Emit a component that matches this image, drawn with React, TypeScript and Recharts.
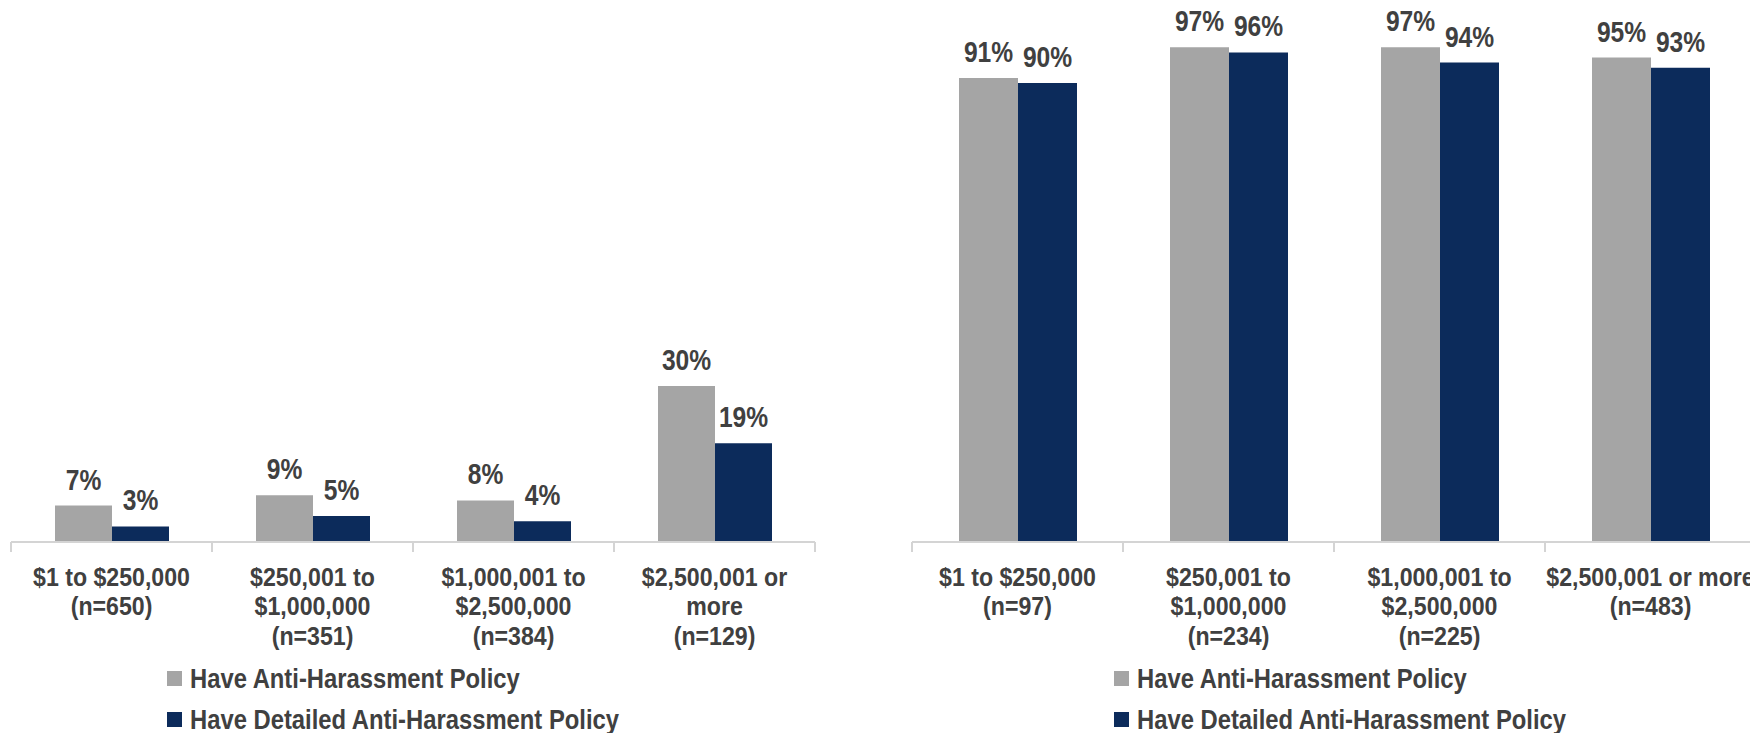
import { BarChart, Bar, XAxis, YAxis, LabelList, Legend } from "recharts";

const leftCategories = [
  ["$1 to $250,000", "(n=650)"],
  ["$250,001 to", "$1,000,000", "(n=351)"],
  ["$1,000,001 to", "$2,500,000", "(n=384)"],
  ["$2,500,001 or", "more", "(n=129)"],
];
const leftPolicy = [7, 9, 8, 30];
const leftDetailed = [3, 5, 4, 19];

const rightCategories = [
  ["$1 to $250,000", "(n=97)"],
  ["$250,001 to", "$1,000,000", "(n=234)"],
  ["$1,000,001 to", "$2,500,000", "(n=225)"],
  ["$2,500,001 or more", "(n=483)"],
];
const rightPolicy = [91, 97, 97, 95];
const rightDetailed = [90, 96, 94, 93];

const seriesNames = ["Have Anti-Harassment Policy", "Have Detailed Anti-Harassment Policy"];
const GREY = "#a5a5a5";
const NAVY = "#0c2b5b";
const TEXT = "#404040";
const AXIS = "#d4d4d4";
// no Arial Narrow offline: Liberation Sans Bold squeezed horizontally
const FONT = "'Liberation Sans', Arial, sans-serif";

function build(cats: string[][], a: number[], b: number[]) {
  return cats.map((lines, i) => ({ name: lines.join("|"), policy: a[i], detailed: b[i] }));
}

function CategoryTick(props: any) {
  const { x, y, payload, index, band, count } = props;
  const lines: string[] = String(payload.value).split("|");
  return (
    <g>
      <line x1={x - band / 2} x2={x - band / 2} y1={y} y2={y + 10} stroke={AXIS} strokeWidth={2} />
      {index === count - 1 && (
        <line x1={x + band / 2} x2={x + band / 2} y1={y} y2={y + 10} stroke={AXIS} strokeWidth={2} />
      )}
      {lines.map((t, i) => (
        <text
          key={i}
          transform={`translate(${x} ${y + 35 + i * 29.5}) scale(0.89 1)`}
          textAnchor="middle"
          dominantBaseline="central"
          fill={TEXT}
          fontSize={26}
          fontWeight="bold"
          fontFamily={FONT}
        >
          {t}
        </text>
      ))}
    </g>
  );
}

function ValueLabel(props: any) {
  const vb = props.viewBox ?? props;
  const cx = vb.x + vb.width / 2;
  const base = vb.y - 16;
  return (
    <text
      transform={`translate(${cx} ${base}) scale(0.82 1)`}
      textAnchor="middle"
      fill={TEXT}
      fontSize={30}
      fontWeight="bold"
      fontFamily={FONT}
    >
      {`${props.value}%`}
    </text>
  );
}

function LegendBox({ left }: { left: number }) {
  const colors = [GREY, NAVY];
  return (
    <div style={{ position: "absolute", left, top: 658, fontFamily: FONT }}>
      {seriesNames.map((n, i) => (
        <div key={n} style={{ display: "flex", alignItems: "center", height: 41 }}>
          <div style={{ width: 15, height: 15, background: colors[i], marginRight: 8, flex: "none" }} />
          <span
            style={{
              display: "inline-block",
              fontSize: 28,
              fontWeight: "bold",
              color: TEXT,
              whiteSpace: "nowrap",
              transform: "scaleX(0.85)",
              transformOrigin: "left center",
            }}
          >
            {n}
          </span>
        </div>
      ))}
    </div>
  );
}

function Panel(props: {
  data: any[];
  width: number;
  margin: { top: number; right: number; left: number; bottom: number };
  band: number;
  barSize: number;
  legendLeft: number;
}) {
  const { data, width, margin, band, barSize, legendLeft } = props;
  return (
    <BarChart width={width} height={733} data={data} margin={margin} barGap={0} barSize={barSize}>
      <XAxis
        dataKey="name"
        height={150}
        axisLine={{ stroke: AXIS, strokeWidth: 2 }}
        tickLine={false}
        tickSize={0}
        tickMargin={0}
        interval={0}
        tick={<CategoryTick band={band} count={data.length} />}
      />
      <YAxis hide domain={[0, 100]} />
      <Legend
        layout="vertical"
        align="center"
        verticalAlign="middle"
        wrapperStyle={{ left: 0, top: 0, width: 0, height: 0 }}
        content={() => <LegendBox left={legendLeft} />}
      />
      <Bar dataKey="policy" fill={GREY} isAnimationActive={false}>
        <LabelList dataKey="policy" content={(p: any) => <ValueLabel {...p} />} />
      </Bar>
      <Bar dataKey="detailed" fill={NAVY} isAnimationActive={false}>
        <LabelList dataKey="detailed" content={(p: any) => <ValueLabel {...p} />} />
      </Bar>
    </BarChart>
  );
}

export default function App() {
  const leftData = build(leftCategories, leftPolicy, leftDetailed);
  const rightData = build(rightCategories, rightPolicy, rightDetailed);
  return (
    <div
      style={{
        position: "absolute",
        left: 0,
        top: 0,
        width: 1750,
        height: 733,
        overflow: "hidden",
        background: "#fff",
      }}
    >
      <div style={{ position: "absolute", left: 0, top: 0 }}>
        <Panel
          data={leftData}
          width={830}
          margin={{ top: 22, right: 15, left: 11, bottom: 41 }}
          band={201}
          barSize={57}
          legendLeft={167}
        />
      </div>
      <div style={{ position: "absolute", left: 900, top: 0 }}>
        <Panel
          data={rightData}
          width={860}
          margin={{ top: 32, right: 4, left: 12, bottom: 41 }}
          band={211}
          barSize={59}
          legendLeft={214}
        />
      </div>
    </div>
  );
}
